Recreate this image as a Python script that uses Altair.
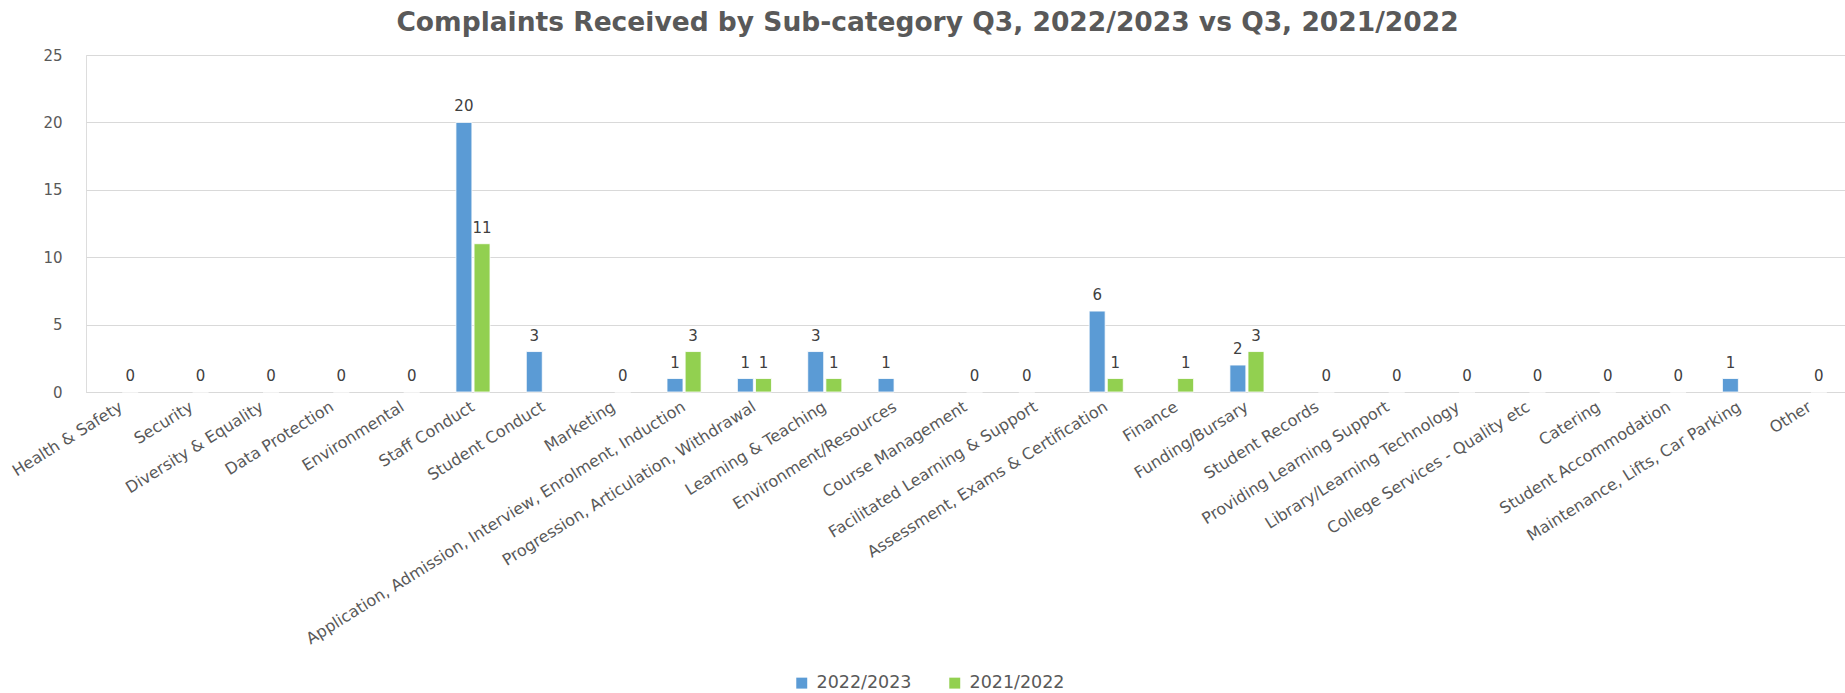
import altair as alt
import pandas as pd

categories = [
    "Health & Safety", "Security", "Diversity & Equality", "Data Protection",
    "Environmental", "Staff Conduct", "Student Conduct", "Marketing",
    "Application, Admission, Interview, Enrolment, Induction",
    "Progression, Articulation, Withdrawal", "Learning & Teaching",
    "Environment/Resources", "Course Management", "Facilitated Learning & Support",
    "Assessment, Exams & Certification", "Finance", "Funding/Bursary",
    "Student Records", "Providing Learning Support", "Library/Learning Technology",
    "College Services - Quality etc", "Catering", "Student Accommodation",
    "Maintenance, Lifts, Car Parking", "Other",
]
series_names = ["2022/2023", "2021/2022"]
values_2223 = [None, None, None, None, None, 20, 3, None, 1, 1, 3, 1, None, 0,
               6, None, 2, None, None, None, None, None, None, 1, None]
values_2122 = [0, 0, 0, 0, 0, 11, None, 0, 3, 1, 1, None, 0, None,
               1, 1, 3, 0, 0, 0, 0, 0, 0, None, 0]
y_ticks = [0, 5, 10, 15, 20, 25]
colors = ["#5B9BD5", "#92D050"]

rows = []
for c, a, b in zip(categories, values_2223, values_2122):
    if a is not None:
        rows.append({"cat": c, "series": series_names[0], "value": a})
    if b is not None:
        rows.append({"cat": c, "series": series_names[1], "value": b})
df = pd.DataFrame(rows)

FONT = "DejaVu Sans"
GRAY = "#595959"

x_enc = alt.X(
    "cat:N", sort=categories, title=None,
    scale=alt.Scale(paddingInner=0.49, paddingOuter=0.245),
    axis=alt.Axis(labelAngle=-32, labelAlign="right", labelBaseline="middle",
                  labelPadding=13, labelFont=FONT, labelFontSize=16,
                  labelColor=GRAY, ticks=False, domainColor="#d9d9d9",
                  labelLimit=700, labelOverlap=False),
)
xoff = alt.XOffset("series:N", sort=series_names,
                   scale=alt.Scale(paddingInner=0.12, paddingOuter=0.05))
y_enc = alt.Y(
    "value:Q", title=None,
    scale=alt.Scale(domain=[0, 25], nice=False),
    axis=alt.Axis(values=y_ticks, ticks=False, domain=False,
                  gridColor="#d9d9d9", labelPadding=24, labelFont=FONT,
                  labelFontSize=15, labelColor=GRAY),
)

bars = alt.Chart(df).mark_bar(stroke="white", strokeWidth=0.8).encode(
    x=x_enc, xOffset=xoff, y=y_enc,
    color=alt.Color(
        "series:N", sort=series_names,
        scale=alt.Scale(domain=series_names, range=colors),
        legend=alt.Legend(
            title=None, orient="none", direction="horizontal",
            legendX=707, legendY=619, symbolType="square", symbolSize=120,
            symbolStrokeWidth=0, labelFont=FONT, labelFontSize=17.5,
            labelColor=GRAY, columnPadding=34, labelOffset=6,
        ),
    ),
)

labels = alt.Chart(df).mark_text(
    dy=-16, font=FONT, fontSize=15, color="#404040"
).encode(
    x=alt.X("cat:N", sort=categories),
    xOffset=alt.XOffset("series:N", sort=series_names),
    y="value:Q",
    text="value:Q",
)

chart = (
    alt.layer(bars, labels)
    .properties(
        width=1759, height=337,
        autosize=alt.AutoSizeParams(type="none"),
        padding={"left": 86, "top": 55, "right": 0, "bottom": 301},
        title=alt.TitleParams(
            "Complaints Received by Sub-category Q3, 2022/2023 vs Q3, 2021/2022",
            font=FONT, fontSize=26.5, fontWeight="bold", color=GRAY,
            anchor="middle", dx=-38, offset=12,
        ),
    )
    .configure_view(strokeWidth=0)
    .configure(background="white")
)

chart.save("out.html", embed_options={"renderer": "svg", "actions": False})
